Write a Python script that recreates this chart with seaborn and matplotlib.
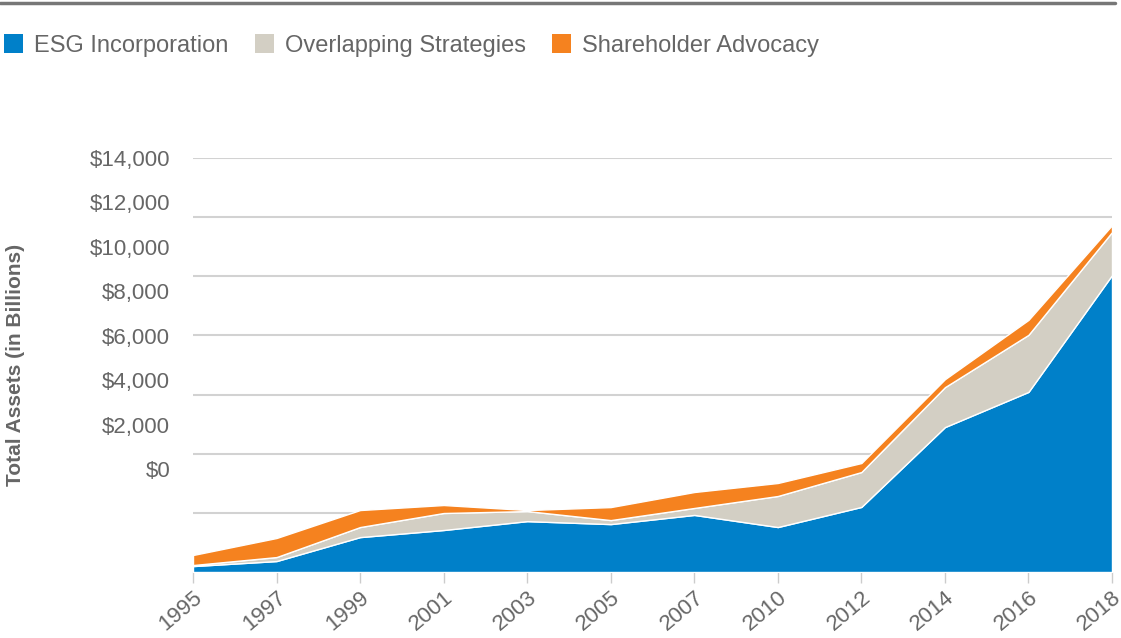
import matplotlib
matplotlib.use("Agg")
import matplotlib.pyplot as plt
from matplotlib.lines import Line2D
from matplotlib.patches import Patch
import seaborn as sns
import numpy as np

years = ["1995", "1997", "1999", "2001", "2003", "2005", "2007", "2010", "2012", "2014", "2016", "2018"]
esg_incorporation = [200, 370, 1180, 1420, 1720, 1620, 1930, 1520, 2200, 4900, 6090, 10040]
overlapping = [35, 135, 340, 575, 340, 135, 235, 1050, 1180, 1350, 1930, 1455]
advocacy = [340, 645, 575, 270, 35, 440, 540, 440, 305, 270, 505, 235]
series_names = ["ESG Incorporation", "Overlapping Strategies", "Shareholder Advocacy"]
ytick_values = [0, 2000, 4000, 6000, 8000, 10000, 12000, 14000]
ytick_labels = ["$0", "$2,000", "$4,000", "$6,000", "$8,000", "$10,000", "$12,000", "$14,000"]

colors = ["#0080C9", "#D3CFC4", "#F5821F"]

sns.set_theme(style="white")
plt.rcParams['font.family'] = ['Liberation Sans', 'DejaVu Sans']

fig = plt.figure(figsize=(11.21, 6.38), dpi=100)
ax = fig.add_axes([193/1121, 1-572/638, (1112-193)/1121, (572-158)/638])

x = np.arange(len(years))
ax.stackplot(x, esg_incorporation, overlapping, advocacy, colors=colors,
             edgecolor="white", linewidth=1.0, zorder=3)
ax.set_xlim(0, len(years) - 1)
ax.set_ylim(0, 14000)
ax.set_yticks(ytick_values)
ax.yaxis.grid(True, color="#d2d2d2", linewidth=1.5, zorder=0)
ax.set_axisbelow(True)
ax.set_xticks(x)
ax.set_xticklabels(years, rotation=40, ha="right", rotation_mode="anchor",
                   fontsize=16, color="#666666")
for s in ax.spines.values():
    s.set_visible(False)

# secondary axis for the (offset) dollar labels, as in the reference
ax2 = ax.twinx()
ax2.set_ylim(-4637, 14000)
ax2.yaxis.set_ticks_position("left")
ax2.yaxis.set_label_position("left")
ax2.set_yticks(ytick_values)
ax2.set_yticklabels(ytick_labels, fontsize=16, color="#666666")
ax2.tick_params(axis="y", left=False, right=False, length=0, pad=16.5)
for s in ax2.spines.values():
    s.set_visible(False)
ax2.set_ylabel("Total Assets (in Billions)", fontsize=15, color="#666666", fontweight="bold")
ax2.yaxis.set_label_coords(-0.183, 0.5)

ax.tick_params(axis="y", left=False, right=False, labelleft=False, labelright=False)
ax.tick_params(axis="x", bottom=True, length=8, width=1, color="#cccccc", pad=3)

handles = [Patch(facecolor=c, edgecolor="none") for c in colors]
fig.legend(handles, series_names, loc="upper left", bbox_to_anchor=(0.004, 0.946),
           ncol=3, frameon=False, fontsize=17, labelcolor="#666666",
           borderaxespad=0, borderpad=0,
           handlelength=0.8, handleheight=0.8, handletextpad=0.47, columnspacing=1.1)

fig.add_artist(Line2D([0, 1115/1121], [1-3/638, 1-3/638], color="#777777", linewidth=2.5))

fig.savefig("out.png", dpi=100)
